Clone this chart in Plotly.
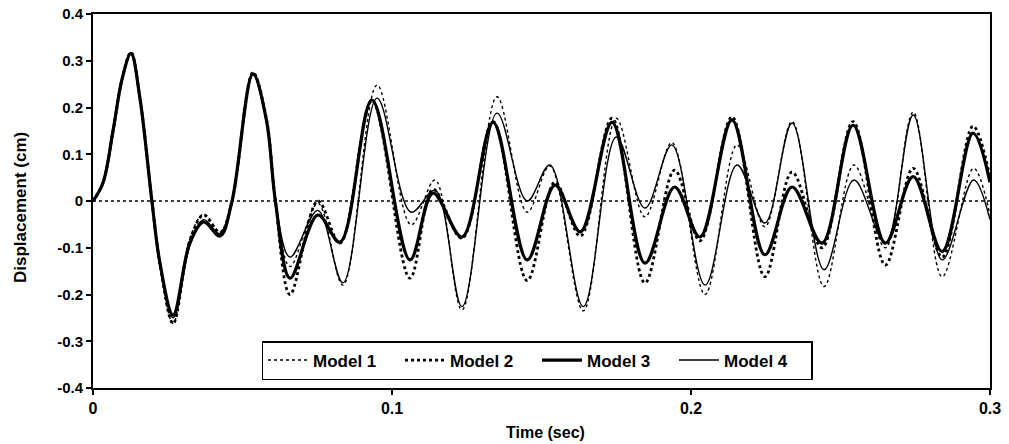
import plotly.graph_objects as go

# Time points (s) at which values were read (peaks, troughs, crossings)
t_a = [0, 0.0033, 0.0067, 0.0097, 0.0127, 0.0157, 0.0197, 0.0224, 0.0268, 0.0324,
       0.0370, 0.0425, 0.0465, 0.0535, 0.058, 0.061, 0.0659, 0.0752, 0.0826, 0.0933,
       0.106, 0.1137, 0.1234, 0.1338, 0.1452, 0.1545, 0.163, 0.1736, 0.1846, 0.1945,
       0.203, 0.2137, 0.2247, 0.2338, 0.2438, 0.2542, 0.265, 0.2743, 0.284, 0.2943, 0.3]
t_b = [0, 0.0033, 0.0067, 0.0097, 0.0127, 0.0157, 0.0197, 0.0224, 0.0268, 0.0324,
       0.037, 0.0425, 0.0465, 0.0535, 0.058, 0.061, 0.0659, 0.0752, 0.0836, 0.095,
       0.1064, 0.1144, 0.1234, 0.1351, 0.1452, 0.1528, 0.164, 0.175, 0.1846, 0.1936,
       0.2047, 0.2154, 0.2247, 0.2338, 0.2445, 0.2545, 0.265, 0.2743, 0.284, 0.2945, 0.3]

model1 = [0, 0.038, 0.15, 0.26, 0.316, 0.22, 0.0, -0.135, -0.262, -0.08,
          -0.028, -0.065, 0.0, 0.273, 0.172, 0.0, -0.14, -0.005, -0.18, 0.248,
          -0.051, 0.045, -0.233, 0.223, -0.024, 0.075, -0.235, 0.177, -0.034, 0.125,
          -0.2, 0.12, -0.055, 0.17, -0.183, 0.077, -0.1, 0.19, -0.162, 0.07, -0.03]
model2 = [0, 0.038, 0.15, 0.26, 0.318, 0.22, 0.0, -0.135, -0.262, -0.085,
          -0.03, -0.068, 0.0, 0.275, 0.175, 0.0, -0.2, 0.0, -0.09, 0.215,
          -0.165, 0.025, -0.08, 0.17, -0.17, 0.04, -0.075, 0.177, -0.175, 0.066,
          -0.085, 0.18, -0.162, 0.062, -0.1, 0.17, -0.137, 0.07, -0.12, 0.16, 0.05]
model3 = [0, 0.038, 0.15, 0.26, 0.316, 0.22, 0.0, -0.133, -0.244, -0.09,
          -0.045, -0.075, 0.0, 0.272, 0.173, 0.0, -0.165, -0.03, -0.088, 0.216,
          -0.126, 0.017, -0.077, 0.168, -0.126, 0.034, -0.066, 0.168, -0.133, 0.03,
          -0.077, 0.173, -0.115, 0.03, -0.09, 0.162, -0.09, 0.052, -0.108, 0.145, 0.04]
model4 = [0, 0.038, 0.15, 0.26, 0.314, 0.22, 0.0, -0.13, -0.25, -0.095,
          -0.04, -0.07, 0.0, 0.27, 0.17, 0.0, -0.12, -0.02, -0.175, 0.22,
          -0.024, 0.023, -0.226, 0.188, 0.0, 0.077, -0.226, 0.137, -0.015, 0.12,
          -0.18, 0.077, -0.047, 0.167, -0.147, 0.045, -0.09, 0.184, -0.126, 0.045, -0.04]

x_ticks = [0, 0.1, 0.2, 0.3]
x_ticktext = ["0", "0.1", "0.2", "0.3"]
y_ticks = [-0.4, -0.3, -0.2, -0.1, 0, 0.1, 0.2, 0.3, 0.4]
y_ticktext = ["-0.4", "-0.3", "-0.2", "-0.1", "0", "0.1", "0.2", "0.3", "0.4"]
x_title = "Time (sec)"
y_title = "Displacement (cm)"

FONT = "Liberation Sans, Arial, sans-serif"
W, H = 1009, 444
ML, MR, MT, MB = 93, 19, 14, 56
PW, PH = W - ML - MR, H - MT - MB

fig = go.Figure()
series = [
    ("Model 1", t_b, model1, dict(color="black", width=1.4, dash="dot")),
    ("Model 2", t_a, model2, dict(color="black", width=2.8, dash="dot")),
    ("Model 3", t_a, model3, dict(color="black", width=3.2)),
    ("Model 4", t_b, model4, dict(color="black", width=1.4)),
]
for name, t, y, ln in series:
    fig.add_trace(go.Scatter(x=t, y=y, mode="lines", name=name,
                             line=dict(shape="spline", smoothing=1.0, **ln)))

fig.add_hline(y=0, line=dict(color="black", width=1.5, dash="dot"), layer="below")

# axis titles as paper-positioned text
fig.add_annotation(text=x_title, xref="paper", yref="paper",
                   x=(545 - ML) / PW, y=-(432 - (MT + PH)) / PH,
                   xanchor="center", yanchor="middle", showarrow=False,
                   font=dict(family=FONT, size=16, color="black", weight="bold"))
fig.add_annotation(text=y_title, xref="paper", yref="paper",
                   x=-(ML - 20) / PW, y=(MT + PH - 208) / PH, textangle=-90,
                   xanchor="center", yanchor="middle", showarrow=False,
                   font=dict(family=FONT, size=17, color="black", weight="bold"))

fig.update_layout(
    width=W, height=H,
    margin=dict(l=ML, r=MR, t=MT, b=MB, autoexpand=False),
    paper_bgcolor="white", plot_bgcolor="white",
    font=dict(family=FONT, color="black", size=15),
    showlegend=True,
    legend=dict(orientation="h", x=(537 - ML) / PW, xanchor="center",
                y=(MT + PH - 380) / PH, yanchor="bottom",
                bgcolor="white", bordercolor="black", borderwidth=1.5,
                font=dict(family=FONT, size=17, color="black", weight="bold"),
                itemwidth=40, entrywidth=82, tracegroupgap=0),
)
fig.update_xaxes(range=[0, 0.3], tickvals=x_ticks, ticktext=x_ticktext,
                 automargin=False,
                 showgrid=False, zeroline=False, showline=True, linecolor="black",
                 linewidth=2, mirror=True, ticks="outside", ticklen=5, tickwidth=1.5,
                 tickcolor="black",
                 tickfont=dict(family=FONT, size=16, weight="bold"))
fig.update_yaxes(range=[-0.4, 0.4], tickvals=y_ticks, ticktext=y_ticktext,
                 automargin=False,
                 showgrid=False, zeroline=False, showline=True, linecolor="black",
                 linewidth=2, mirror=True, ticks="outside", ticklen=5, tickwidth=1.5,
                 tickcolor="black",
                 tickfont=dict(family=FONT, size=15, weight="bold"))

fig.write_html("out.html")
